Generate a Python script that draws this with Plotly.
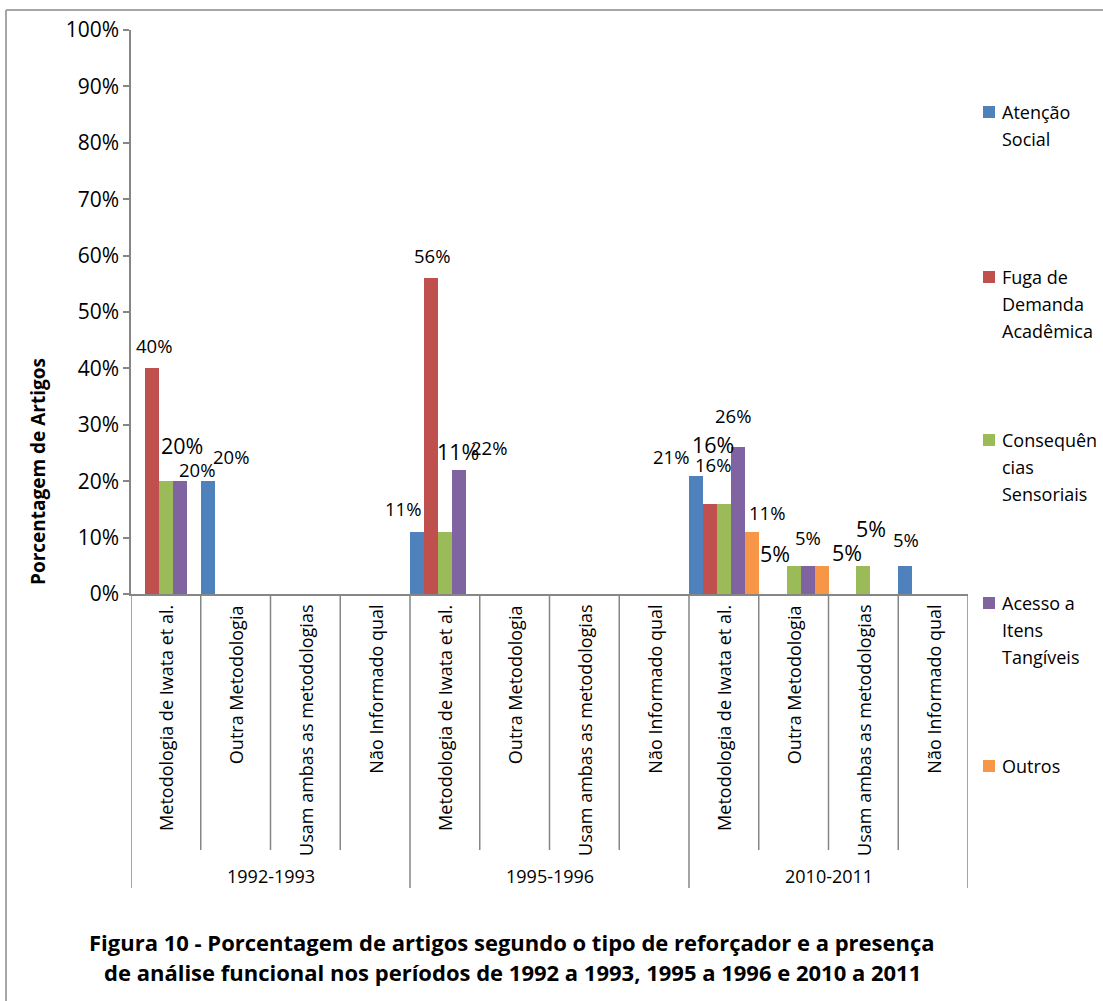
import plotly.graph_objects as go

# ---------------- data ----------------
periods = ["1992-1993", "1995-1996", "2010-2011"]
methods = ["Metodologia de Iwata et al.", "Outra Metodologia",
           "Usam ambas as metodologias", "Não Informado qual"]
series_names = ["Atenção Social", "Fuga de Demanda Acadêmica",
                "Consequências Sensoriais", "Acesso a Itens Tangíveis", "Outros"]
legend_lines = [["Atenção", "Social"], ["Fuga de", "Demanda", "Acadêmica"],
                ["Consequên", "cias", "Sensoriais"], ["Acesso a", "Itens", "Tangíveis"],
                ["Outros"]]
# values (%) per category: 3 periods x 4 methods
atencao_social = [0, 20, 0, 0, 11, 0, 0, 0, 21, 0, 0, 5]
fuga_demanda   = [40, 0, 0, 0, 56, 0, 0, 0, 16, 0, 0, 0]
consequencias  = [20, 0, 0, 0, 11, 0, 0, 0, 16, 5, 5, 0]
acesso_itens   = [20, 0, 0, 0, 22, 0, 0, 0, 26, 5, 0, 0]
outros         = [0, 0, 0, 0, 0, 0, 0, 0, 11, 5, 0, 0]
series_values = [atencao_social, fuga_demanda, consequencias, acesso_itens, outros]
y_ticks = [0, 10, 20, 30, 40, 50, 60, 70, 80, 90, 100]

# ---------------- styles ----------------
colors = ["#4F81BD", "#C0504D", "#9BBB59", "#8064A2", "#F79646"]
FONT = "Open Sans"
AXIS = "#868686"
W, H = 1103, 1001
L, R, T, B = 131, 135, 30, 407
PW, PH = W - L - R, H - T - B

def px(xp):  # pixel x -> paper
    return (xp - L) / PW

def py(yp):  # pixel y -> paper
    return (H - B - yp) / PH

# data-label placement (series, category) -> (dx px, dy px above bar top, big?)
label_style = {
    (1, 0): (2, 23, False), (2, 0): (16, 36, True), (3, 0): (17, 12, False),
    (0, 1): (23, 25, False),
    (0, 4): (-14, 23, False), (1, 4): (1, 23, False), (2, 4): (13, 80, True),
    (3, 4): (30, 22, False),
    (0, 8): (-25, 19, False), (1, 8): (3, 59, True), (2, 8): (-11, 39, False),
    (3, 8): (-5, 32, False), (4, 8): (15, 19, False),
    (2, 9): (-19, 12, True), (3, 9): (0, 28, False), (4, 9): (25, 13, True),
    (2, 10): (8, 37, True),
    (0, 11): (1, 26, False),
}

ncat = len(periods) * len(methods)
xs = list(range(ncat))

fig = go.Figure()
for s, (name, vals) in enumerate(zip(series_names, series_values)):
    fig.add_trace(go.Bar(x=xs, y=vals, name=name, marker_color=colors[s],
                         marker_line_width=0, showlegend=False))

annotations = []
nser = len(series_names)
slot = 1.0 / nser
for s, vals in enumerate(series_values):
    for c, v in enumerate(vals):
        if (s, c) in label_style and v > 0:
            dx, dy, big = label_style[(s, c)]
            xc = c - 0.5 + slot * (s + 0.5)
            annotations.append(dict(
                x=xc, y=v, xref="x", yref="y", text=f"{v}%", showarrow=False,
                xanchor="center", yanchor="middle", xshift=dx, yshift=dy,
                font=dict(family=FONT, size=21.5 if big else 18.5, color="#000")))

# category labels (rotated)
cat_labels = [m for _ in periods for m in methods]
for c, lab in enumerate(cat_labels):
    annotations.append(dict(x=c, y=py(603), xref="x", yref="paper", text=lab,
                            showarrow=False, textangle=-90, xanchor="center",
                            yanchor="top",
                            font=dict(family=FONT, size=18, color="#000")))
# period labels
for g, p in enumerate(periods):
    xc = g * len(methods) + (len(methods) - 1) / 2
    annotations.append(dict(x=xc, y=py(876), xref="x", yref="paper", text=p,
                            showarrow=False, xanchor="center", yanchor="middle",
                            font=dict(family=FONT, size=18, color="#000")))

# y axis title
annotations.append(dict(x=px(38), y=py(472), xref="paper", yref="paper",
                        text="<b>Porcentagem de Artigos</b>", showarrow=False,
                        textangle=-90, xanchor="center", yanchor="middle",
                        font=dict(family=FONT, size=19, color="#000")))

# caption
caption = ["Figura 10 - Porcentagem de artigos segundo o tipo de reforçador e a presença",
           "de análise funcional nos períodos de 1992 a 1993, 1995 a 1996 e 2010 a 2011"]
for i, line in enumerate(caption):
    annotations.append(dict(x=px(512), y=py(942 + 30 * i), xref="paper", yref="paper",
                            text=f"<b>{line}</b>", showarrow=False,
                            xanchor="center", yanchor="middle",
                            font=dict(family=FONT, size=22, color="#000")))

# legend (manual)
shapes = []
entry_tops = [112, 277, 440, 603, 766]
for s, lines in enumerate(legend_lines):
    top = entry_tops[s]
    shapes.append(dict(type="rect", xref="paper", yref="paper",
                       x0=px(983), x1=px(995), y0=py(top - 6), y1=py(top + 6),
                       fillcolor=colors[s], line_width=0))
    for k, ln in enumerate(lines):
        annotations.append(dict(x=px(1000), y=py(top + 27 * k), xref="paper",
                                yref="paper", text=ln, showarrow=False,
                                xanchor="left", yanchor="middle",
                                font=dict(family=FONT, size=18, color="#000")))

# category dividers
for i in range(ncat + 1):
    long = i % len(methods) == 0
    shapes.append(dict(type="line", xref="x", yref="paper", x0=i - 0.5, x1=i - 0.5,
                       y0=0, y1=py(888 if long else 850),
                       line=dict(color=AXIS, width=1.5)))

# outer border (top and left)
shapes.append(dict(type="line", xref="paper", yref="paper", x0=px(6), x1=px(1110),
                   y0=py(10), y1=py(10), line=dict(color="#a6a6a6", width=2)))
shapes.append(dict(type="line", xref="paper", yref="paper", x0=px(6), x1=px(6),
                   y0=py(10), y1=py(1010), line=dict(color="#a6a6a6", width=2)))

fig.update_layout(
    width=W, height=H, margin=dict(l=L, r=R, t=T, b=B, autoexpand=False),
    paper_bgcolor="white", plot_bgcolor="white",
    barmode="group", bargap=0, bargroupgap=0,
    showlegend=False, hovermode=False,
    annotations=annotations, shapes=shapes,
    font=dict(family=FONT, color="#000"),
)
fig.update_xaxes(range=[-0.5, ncat - 0.5], showticklabels=False, showgrid=False,
                 zeroline=False, showline=True, linecolor=AXIS, linewidth=1.5,
                 ticks="", fixedrange=True)
fig.update_yaxes(range=[0, 100], tickvals=y_ticks, ticktext=[f"{t}%" for t in y_ticks],
                 showgrid=False, zeroline=False, showline=True, linecolor=AXIS,
                 linewidth=1.5, ticks="outside", ticklen=6, tickcolor=AXIS,
                 tickwidth=1.5, tickfont=dict(family=FONT, size=21, color="#000"),
                 fixedrange=True)

fig.write_html("out.html", config={"displayModeBar": False},
               post_script="document.body.style.margin='0';document.body.style.overflow='hidden';")
